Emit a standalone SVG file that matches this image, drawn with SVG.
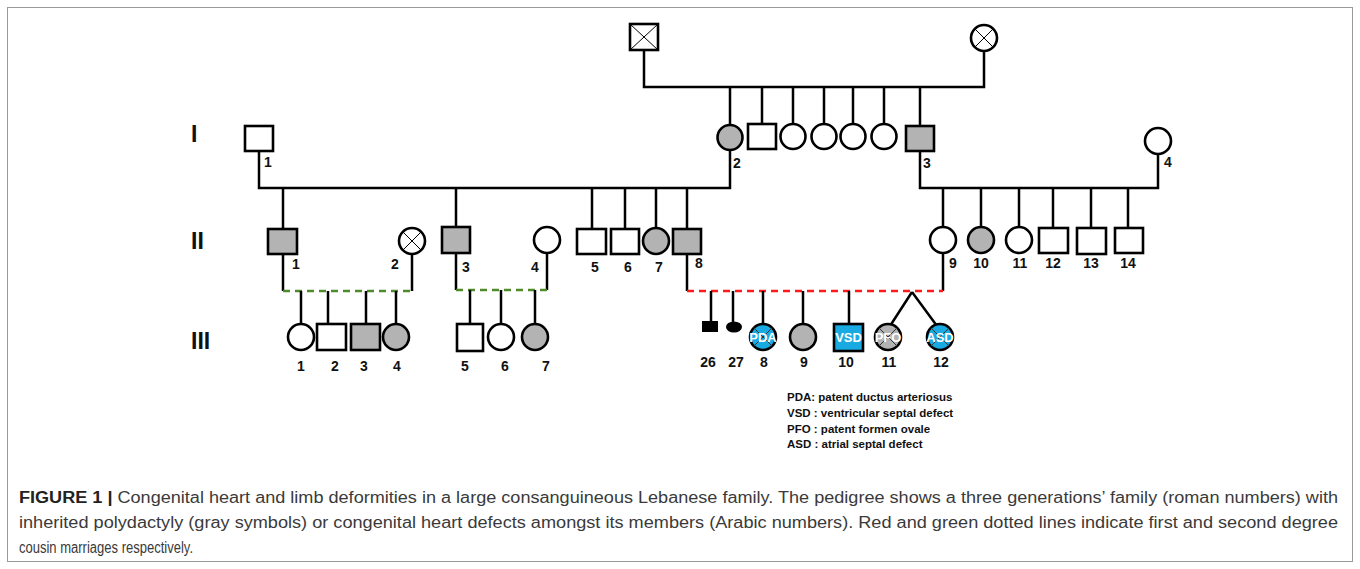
<svg xmlns="http://www.w3.org/2000/svg" width="1360" height="569" viewBox="0 0 1360 569">
<style>
.sym{stroke:#000;stroke-width:2.6;fill:#fff}
.aff{fill:#b3b3b3}
.blue{fill:#1aaae2}
.blk{fill:#000;stroke:none}
.ln{stroke:#000;stroke-width:2.5;fill:none}
.red{stroke:#ff1a1a;stroke-width:2.5;fill:none;stroke-dasharray:7 5}
.green{stroke:#4f8a2b;stroke-width:2.5;fill:none;stroke-dasharray:7 5}
.x{stroke:#000;stroke-width:1;fill:none}
.xd{stroke:#333;stroke-width:1;fill:none}
.num{font-family:"Liberation Sans",Arial,sans-serif;font-weight:bold;font-size:14px;text-anchor:middle;fill:#111}
.gen{font-family:"Liberation Sans",Arial,sans-serif;font-weight:bold;font-size:23px;fill:#111}
.in{font-family:"Liberation Sans",Arial,sans-serif;font-weight:bold;font-size:13px;text-anchor:middle;fill:#fff}
.leg{font-family:"Liberation Sans",Arial,sans-serif;font-weight:bold;font-size:11.5px;fill:#111}
.cap{font-family:"Liberation Sans",Arial,sans-serif;font-size:16px;fill:#3a3a3a}
</style>
<rect x="7.5" y="7.5" width="1345" height="554" fill="#fff" stroke="#999" stroke-width="1"/>

<g id="generation-labels">
<text class="gen" x="191" y="142">I</text>
<text class="gen" x="191" y="249">II</text>
<text class="gen" x="191" y="349">III</text>
</g>

<g id="connectors">
<path class="ln" d="M644 50V87H984V51"/>
<path class="ln" d="M730 87V125M762 87V124M793 87V124M824 87V124M853 87V124M884 87V124M920 87V126"/>
<path class="ln" d="M259 151V188H730V150"/>
<path class="ln" d="M283 188V229M456 188V227M592 188V229M625 188V229M656 188V228M687 188V229"/>
<path class="ln" d="M920 151V188H1158V154"/>
<path class="ln" d="M943 188V227M981 188V227M1019 188V227M1053 188V228M1091 188V228M1128 188V228"/>
<path class="ln" d="M283 254V291M412 254V291M456 253V290M547 253V290M687 254V291M943 253V291"/>
<path class="green" d="M283 291H413"/>
<path class="green" d="M456 290H547"/>
<path class="red" d="M687 291H943"/>
<path class="ln" d="M301 291V324M328 291V324M366 291V324M396 291V324"/>
<path class="ln" d="M470 290V324M501 290V324M535 290V324"/>
<path class="ln" d="M711 291V321M733 291V322M763 291V324M803 291V324M849 291V324M912 292L890 326M912 292L937 326"/>
</g>

<g id="P0-1"><rect class="sym" x="630" y="24" width="28" height="26"/><path class="x" d="M630 24L658 50M658 24L630 50"/></g>
<g id="P0-2"><circle class="sym" cx="984" cy="38" r="13"/><path class="x" d="M974.8 28.8L993.2 47.2M993.2 28.8L974.8 47.2"/></g>

<g id="I-1"><rect class="sym" x="245" y="126" width="28" height="25"/><text class="num" x="268" y="167">1</text></g>
<g id="I-2"><circle class="sym aff" cx="730" cy="137.5" r="12.5"/><text class="num" x="737" y="168">2</text></g>
<g id="I-sib1"><rect class="sym" x="748" y="124" width="28" height="25"/></g>
<g id="I-sib2"><circle class="sym" cx="793" cy="136.5" r="12.5"/></g>
<g id="I-sib3"><circle class="sym" cx="824" cy="136.5" r="12.5"/></g>
<g id="I-sib4"><circle class="sym" cx="853" cy="136.5" r="12.5"/></g>
<g id="I-sib5"><circle class="sym" cx="884" cy="136.5" r="12.5"/></g>
<g id="I-3"><rect class="sym aff" x="906" y="126" width="28" height="25"/><text class="num" x="927" y="168">3</text></g>
<g id="I-4"><circle class="sym" cx="1158" cy="141" r="13"/><text class="num" x="1168" y="167">4</text></g>

<g id="II-1"><rect class="sym aff" x="268" y="229" width="29" height="25"/><text class="num" x="296" y="269">1</text></g>
<g id="II-2"><circle class="sym" cx="412" cy="241" r="13"/><path class="x" d="M402.8 231.8L421.2 250.2M421.2 231.8L402.8 250.2"/><text class="num" x="395" y="269">2</text></g>
<g id="II-3"><rect class="sym aff" x="442" y="227" width="28" height="26"/><text class="num" x="466" y="272">3</text></g>
<g id="II-4"><circle class="sym" cx="547" cy="240" r="13"/><text class="num" x="535" y="272">4</text></g>
<g id="II-5"><rect class="sym" x="577" y="229" width="29" height="25"/><text class="num" x="595" y="272">5</text></g>
<g id="II-6"><rect class="sym" x="611" y="229" width="28" height="25"/><text class="num" x="628" y="272">6</text></g>
<g id="II-7"><circle class="sym aff" cx="656" cy="241" r="13"/><text class="num" x="659" y="272">7</text></g>
<g id="II-8"><rect class="sym aff" x="673" y="229" width="28" height="25"/><text class="num" x="699" y="268">8</text></g>
<g id="II-9"><circle class="sym" cx="943" cy="240" r="13"/><text class="num" x="953" y="268">9</text></g>
<g id="II-10"><circle class="sym aff" cx="981" cy="240" r="13"/><text class="num" x="981" y="268">10</text></g>
<g id="II-11"><circle class="sym" cx="1019" cy="240" r="13"/><text class="num" x="1020" y="268">11</text></g>
<g id="II-12"><rect class="sym" x="1039" y="228" width="29" height="25"/><text class="num" x="1053" y="268">12</text></g>
<g id="II-13"><rect class="sym" x="1077" y="228" width="29" height="26"/><text class="num" x="1091" y="268">13</text></g>
<g id="II-14"><rect class="sym" x="1115" y="228" width="28" height="25"/><text class="num" x="1128" y="268">14</text></g>

<g id="III-1"><circle class="sym" cx="301" cy="337" r="13"/><text class="num" x="301" y="371">1</text></g>
<g id="III-2"><rect class="sym" x="317" y="324" width="29" height="26"/><text class="num" x="335" y="371">2</text></g>
<g id="III-3"><rect class="sym aff" x="351" y="324" width="29" height="26"/><text class="num" x="364" y="371">3</text></g>
<g id="III-4"><circle class="sym aff" cx="396" cy="337" r="13"/><text class="num" x="397" y="371">4</text></g>
<g id="III-5"><rect class="sym" x="457" y="324" width="26" height="27"/><text class="num" x="465" y="371">5</text></g>
<g id="III-6"><circle class="sym" cx="501" cy="337" r="13"/><text class="num" x="505" y="371">6</text></g>
<g id="III-7"><circle class="sym aff" cx="535" cy="337" r="13"/><text class="num" x="546" y="371">7</text></g>

<g id="III-26"><rect class="blk" x="702" y="321" width="16" height="11"/><text class="num" x="708" y="367">26</text></g>
<g id="III-27"><ellipse class="blk" cx="734" cy="327" rx="8" ry="5.5"/><text class="num" x="736" y="367">27</text></g>
<g id="III-8"><circle class="sym blue" cx="763" cy="337" r="13"/><path class="xd" d="M753.8 327.8L772.2 346.2M772.2 327.8L753.8 346.2"/><text class="in" x="763" y="342">PDA</text><text class="num" x="764" y="367">8</text></g>
<g id="III-9"><circle class="sym aff" cx="803" cy="337" r="13"/><text class="num" x="804" y="367">9</text></g>
<g id="III-10"><rect class="sym blue" x="834" y="324" width="29" height="27"/><text class="in" x="848.5" y="342">VSD</text><text class="num" x="846" y="367">10</text></g>
<g id="III-11"><circle class="sym aff" cx="888" cy="337" r="13"/><path class="xd" d="M878.8 327.8L897.2 346.2M897.2 327.8L878.8 346.2"/><text class="in" x="888" y="342">PFO</text><text class="num" x="889" y="367">11</text></g>
<g id="III-12"><circle class="sym blue" cx="940" cy="337" r="13"/><path class="xd" d="M930.8 327.8L949.2 346.2M949.2 327.8L930.8 346.2"/><text class="in" x="940" y="342">ASD</text><text class="num" x="941" y="367">12</text></g>

<g id="legend">
<text class="leg" x="787" y="401">PDA: patent ductus arteriosus</text>
<text class="leg" x="787" y="417">VSD : ventricular septal defect</text>
<text class="leg" x="787" y="433">PFO : patent formen ovale</text>
<text class="leg" x="787" y="448">ASD : atrial septal defect</text>
</g>

<g id="caption">
<text class="cap" x="19" y="503" textLength="1319" lengthAdjust="spacingAndGlyphs"><tspan font-weight="bold" fill="#222">FIGURE 1 |</tspan> Congenital heart and limb deformities in a large consanguineous Lebanese family. The pedigree shows a three generations’ family (roman numbers) with</text>
<text class="cap" x="19" y="528" textLength="1319" lengthAdjust="spacingAndGlyphs">inherited polydactyly (gray symbols) or congenital heart defects amongst its members (Arabic numbers). Red and green dotted lines indicate first and second degree</text>
<text class="cap" x="19" y="553" textLength="174" lengthAdjust="spacingAndGlyphs">cousin marriages respectively.</text>
</g>
</svg>
